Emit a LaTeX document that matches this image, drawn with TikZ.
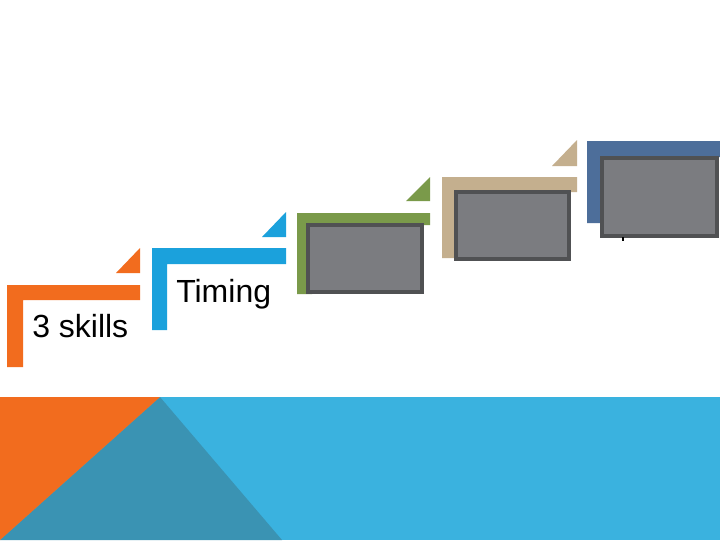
\documentclass[tikz,border=0pt]{standalone}
\usepackage{fontspec}
\setmainfont{Liberation Sans}
\definecolor{cOrange}{HTML}{F26C1E}
\definecolor{cBlue}{HTML}{1BA1DC}
\definecolor{cGreen}{HTML}{7A9A4A}
\definecolor{cTan}{HTML}{C4AF8E}
\definecolor{cSlate}{HTML}{4D6E9A}
\definecolor{cBand}{HTML}{3AB2DF}
\definecolor{cTeal}{HTML}{3A93B3}
\definecolor{cBoxFill}{HTML}{7B7C80}
\definecolor{cBoxLine}{HTML}{505153}
\tikzset{
  graybox/.style={fill=cBoxFill, draw=cBoxLine, line width=2.6pt},
  label/.style={anchor=base west, inner sep=0pt, font=\fontsize{24}{28}\selectfont}
}
\begin{document}
\begin{tikzpicture}[x=0.75pt,y=-0.75pt]
\useasboundingbox (0,0) rectangle (720,540);
\fill[white] (0,0) rectangle (720,540);
% bottom band
\fill[cBand] (0,397) rectangle (720,540);
\fill[cTeal] (160,397) -- (282,540) -- (0,540) -- cycle;
\fill[cOrange] (0,397) -- (160,397) -- (0,540) -- cycle;
% step 1 orange
\fill[cOrange] (7,285) -- (140,285) -- (140,300) -- (23,300) -- (23,367) -- (7,367) -- cycle;
\fill[cOrange] (140,248) -- (140,273) -- (116,273) -- cycle;
% step 2 blue
\fill[cBlue] (152,248) -- (286,248) -- (286,264) -- (167,264) -- (167,330) -- (152,330) -- cycle;
\fill[cBlue] (286,212) -- (286,237) -- (262,237) -- cycle;
% step 3 green
\fill[cGreen] (297,213) -- (430,213) -- (430,225) -- (312,225) -- (312,294) -- (297,294) -- cycle;
\fill[cGreen] (430,177) -- (430,201) -- (406,201) -- cycle;
% step 4 tan
\fill[cTan] (442,177) -- (577,177) -- (577,192) -- (457,192) -- (457,258) -- (442,258) -- cycle;
\fill[cTan] (577,140) -- (577,166) -- (552,166) -- cycle;
% step 5 slate
\fill[cSlate] (587,141) -- (720,141) -- (720,157) -- (602,157) -- (602,223) -- (587,223) -- cycle;
% gray boxes
\draw[graybox] (308,225) rectangle (422,292);
\draw[graybox] (456,192) rectangle (569,259);
\draw[graybox] (602,158) rectangle (717,236);
\fill[black] (622,237) rectangle (624,241);
% texts
\node[label] (t1) at (32,337) {3 skills};
\node[label] (t2) at (176,302) {Timing};
\end{tikzpicture}
\end{document}
